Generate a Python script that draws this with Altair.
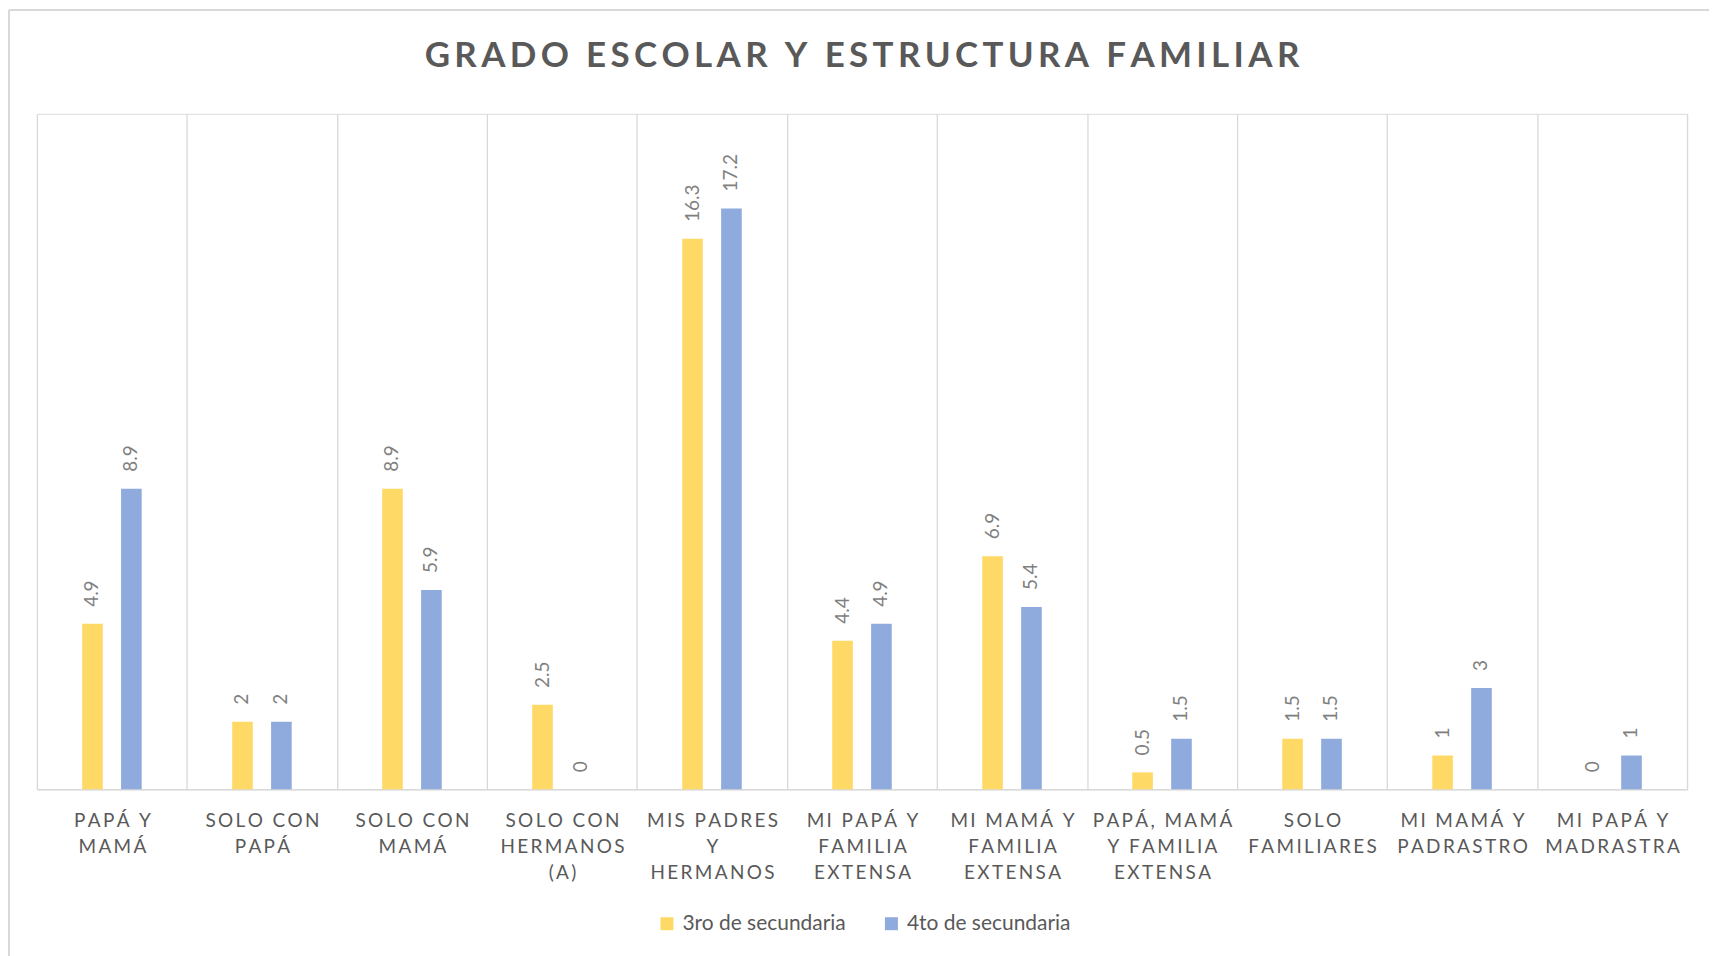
import json
import altair as alt
import pandas as pd

categories = [
    "PAPÁ Y MAMÁ",
    "SOLO CON PAPÁ",
    "SOLO CON MAMÁ",
    "SOLO CON HERMANOS (A)",
    "MIS PADRES Y HERMANOS",
    "MI PAPÁ Y FAMILIA EXTENSA",
    "MI MAMÁ Y FAMILIA EXTENSA",
    "PAPÁ, MAMÁ Y FAMILIA EXTENSA",
    "SOLO FAMILIARES",
    "MI MAMÁ Y PADRASTRO",
    "MI PAPÁ Y MADRASTRA",
]
label_lines = [
    ["PAPÁ Y", "MAMÁ"],
    ["SOLO CON", "PAPÁ"],
    ["SOLO CON", "MAMÁ"],
    ["SOLO CON", "HERMANOS", "(A)"],
    ["MIS PADRES", "Y", "HERMANOS"],
    ["MI PAPÁ Y", "FAMILIA", "EXTENSA"],
    ["MI MAMÁ Y", "FAMILIA", "EXTENSA"],
    ["PAPÁ, MAMÁ", "Y FAMILIA", "EXTENSA"],
    ["SOLO", "FAMILIARES"],
    ["MI MAMÁ Y", "PADRASTRO"],
    ["MI PAPÁ Y", "MADRASTRA"],
]
title_text = "GRADO ESCOLAR Y ESTRUCTURA FAMILIAR"
series = ["3ro de secundaria", "4to de secundaria"]
values_3ro = [4.9, 2, 8.9, 2.5, 16.3, 4.4, 6.9, 0.5, 1.5, 1, 0]
values_4to = [8.9, 2, 5.9, 0, 17.2, 4.9, 5.4, 1.5, 1.5, 3, 1]
colors = ["#FFD966", "#8FAADC"]

rows = []
for c, a, b in zip(categories, values_3ro, values_4to):
    rows.append({"categoria": c, "grado": series[0], "valor": a})
    rows.append({"categoria": c, "grado": series[1], "valor": b})
df = pd.DataFrame(rows)


def tracked(s, n=1):
    # letter spacing of the original (Excel "expanded" character spacing)
    return ("\u200a" * n).join(s)


label_expr = "{}[indexof({}, datum.value)]".format(
    json.dumps([[tracked(l, 2) for l in ls] for ls in label_lines], ensure_ascii=False),
    json.dumps(categories, ensure_ascii=False),
)

FONT = "Lato"
W, H = 1654, 677

x_enc = alt.X(
    "categoria:N",
    sort=categories,
    title=None,
    scale=alt.Scale(paddingInner=0, paddingOuter=0),
    axis=alt.Axis(
        labelExpr=label_expr,
        labelAngle=0,
        labelFont=FONT,
        labelFontSize=19,
        labelColor="#595959",
        labelLineHeight=26,
        labelPadding=22,
        labelOverlap=False,
        labelLimit=300,
        ticks=False,
        tickBand="extent",
        domainColor="#D9D9D9",
        domainWidth=1.5,
        grid=True,
        gridColor="#D9D9D9",
        gridWidth=1.3,
    ),
)
# two empty slots at the ends of the offset band place the pair of bars in the middle
offset_domain = ["_izq"] + series + ["_der"]
xoff_enc = alt.XOffset(
    "grado:N",
    scale=alt.Scale(domain=offset_domain, paddingInner=0.47, paddingOuter=0.163),
)
y_enc = alt.Y(
    "valor:Q",
    title=None,
    scale=alt.Scale(domain=[0, 20], nice=False),
    axis=None,
)

base = alt.Chart(df)

bars = base.mark_bar().encode(
    x=x_enc,
    xOffset=xoff_enc,
    y=y_enc,
    color=alt.Color(
        "grado:N",
        sort=series,
        scale=alt.Scale(domain=series, range=colors),
        legend=alt.Legend(
            title=None,
            orient="none",
            legendX=621,
            legendY=801,
            direction="horizontal",
            symbolType="square",
            symbolSize=169,
            symbolStrokeWidth=0,
            labelFont=FONT,
            labelFontSize=21,
            labelColor="#595959",
            labelOffset=5,
            labelLimit=400,
            columnPadding=35,
        ),
    ),
)

labels = base.mark_text(
    angle=270,
    align="left",
    baseline="middle",
    dx=17,
    font=FONT,
    fontSize=19,
    color="#7F7F7F",
).encode(
    x=x_enc,
    xOffset=xoff_enc,
    y=y_enc,
    text=alt.Text("valor:Q"),
)

frame_top = alt.Chart(pd.DataFrame({"k": [0]})).mark_rule(
    color="#D9D9D9", strokeWidth=2
).encode(x=alt.value(-28), x2=alt.value(W + 40), y=alt.value(-104))
frame_left = alt.Chart(pd.DataFrame({"k": [0]})).mark_rule(
    color="#D9D9D9", strokeWidth=2
).encode(x=alt.value(-28), y=alt.value(-104), y2=alt.value(H + 200))

chart = (
    alt.layer(bars, labels, frame_top, frame_left)
    .properties(
        width=W,
        height=H,
        autosize=alt.AutoSizeParams(type="none"),
        padding={"left": 29, "top": 105, "right": 22, "bottom": 170},
        title=alt.Title(
            tracked(title_text, 2),
            font=FONT,
            fontSize=35,
            fontWeight="bold",
            color="#595959",
            anchor="middle",
            frame="group",
            baseline="alphabetic",
            offset=-93,
        ),
    )
    .configure_view(stroke="transparent", strokeWidth=0)
    .configure(font=FONT)
)

chart.save("out.html", embed_options={"renderer": "svg", "actions": False})
